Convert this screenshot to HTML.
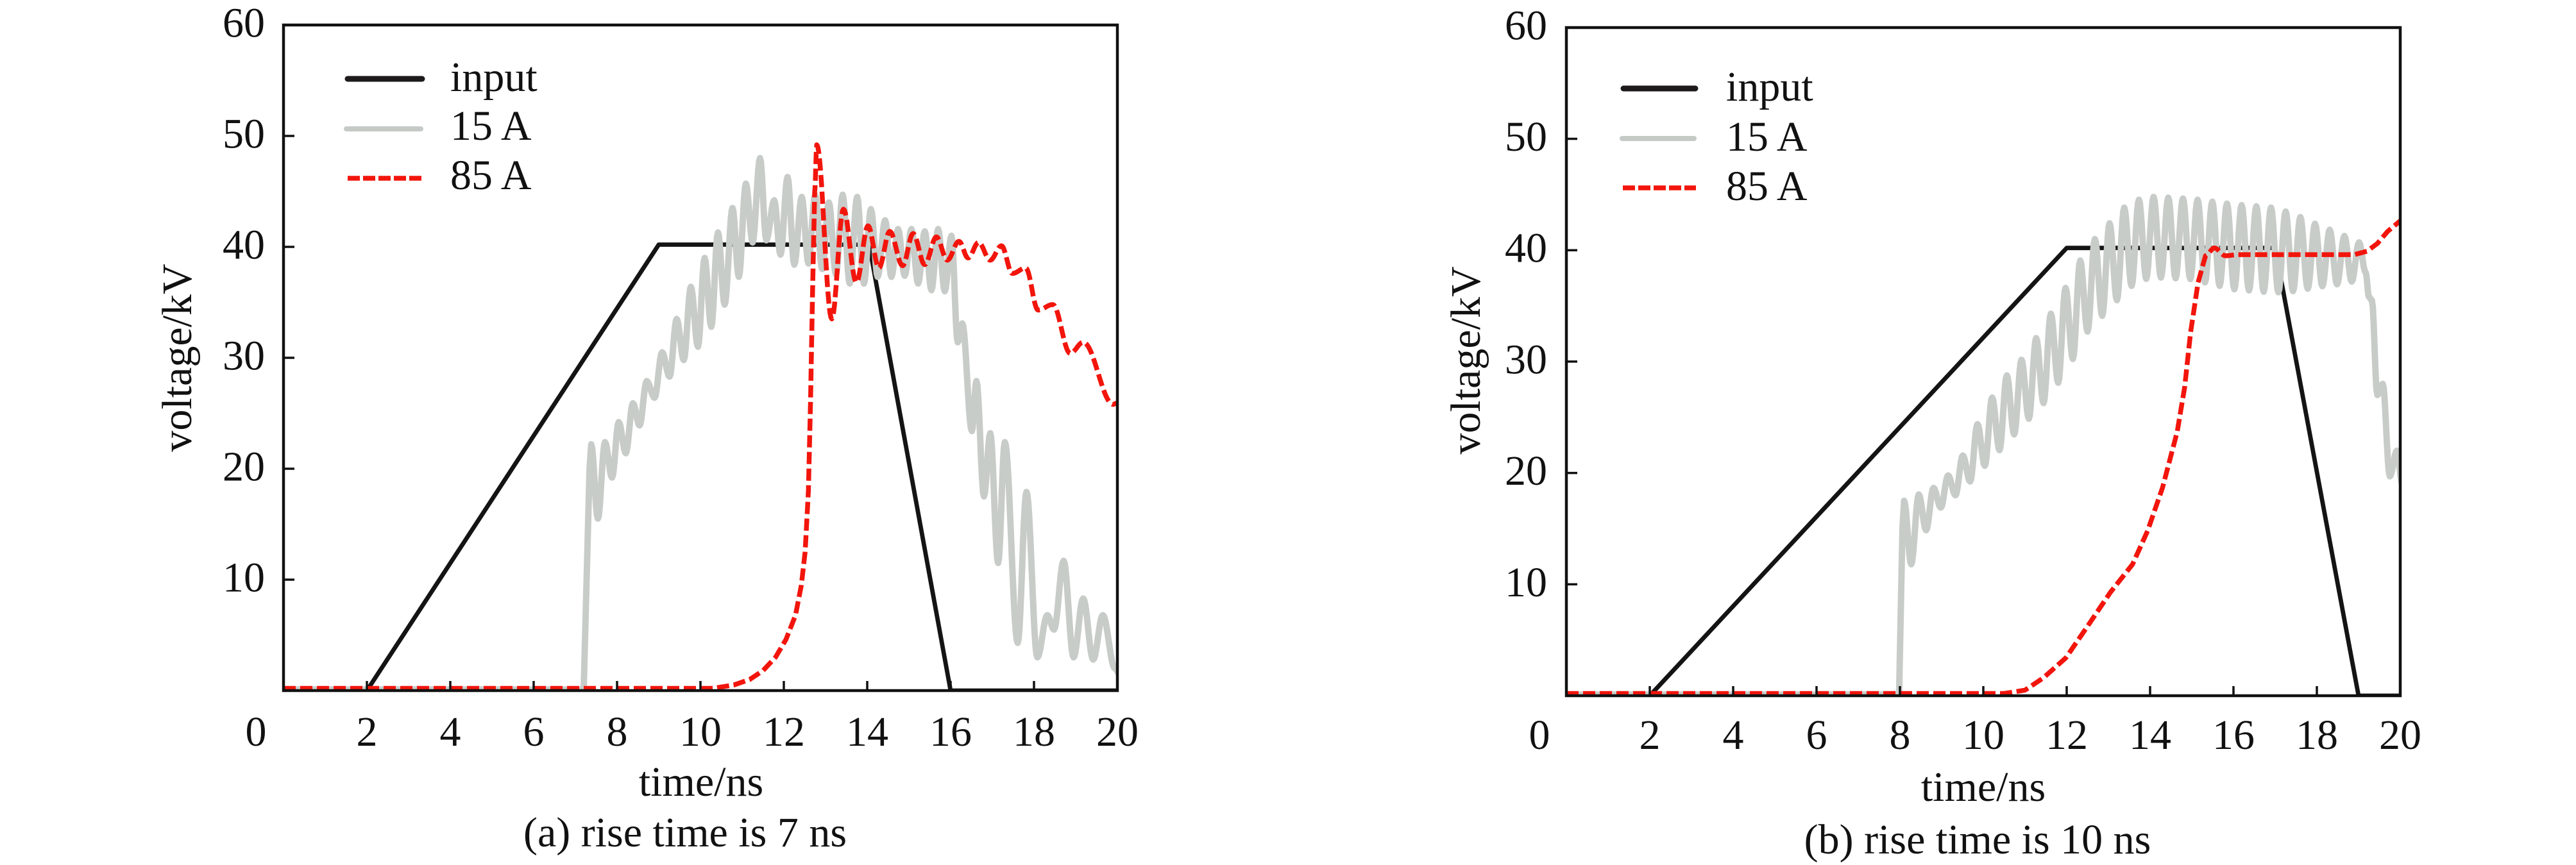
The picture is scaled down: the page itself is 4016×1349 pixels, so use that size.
<!DOCTYPE html>
<html>
<head>
<meta charset="utf-8">
<style>
  html,body{margin:0;padding:0;background:#fff;}
  svg{display:block;}
  text{font-family:"Liberation Serif","Times New Roman",serif;fill:#111;}
</style>
</head>
<body>
<svg id="s" xmlns="http://www.w3.org/2000/svg" width="4016" height="1349" viewBox="0 0 4016 1349" font-family="'Liberation Serif', serif">
  <rect x="0" y="0" width="4016" height="1349" fill="#fff"/>
  <defs>
    <clipPath id="ca"><rect x="442" y="39" width="1300" height="1038"/></clipPath>
    <clipPath id="cb"><rect x="2442" y="43" width="1300" height="1042"/></clipPath>
  </defs>

  <!-- ================= PLOT A ================= -->
  <g clip-path="url(#ca)" fill="none" stroke-linejoin="round">
    <path d="M442 1077 L572 1077 L1027 381.5 L1355 381.5 L1482 1077 L1742 1077" stroke="#141414" stroke-width="6.8"/>
    <path id="ga" d="" stroke="#c8ccc9" stroke-width="10"/>
    <path id="ra" d="" stroke="#f2150c" stroke-width="7.5" stroke-dasharray="19 7"/>
  </g>
  <rect x="442" y="39" width="1300" height="1038" fill="none" stroke="#111" stroke-width="4.5"/>
  <g stroke="#111" stroke-width="3.5">
    <line x1="572" y1="1077" x2="572" y2="1062"/>
    <line x1="702" y1="1077" x2="702" y2="1062"/>
    <line x1="832" y1="1077" x2="832" y2="1062"/>
    <line x1="962" y1="1077" x2="962" y2="1062"/>
    <line x1="1092" y1="1077" x2="1092" y2="1062"/>
    <line x1="1222" y1="1077" x2="1222" y2="1062"/>
    <line x1="1352" y1="1077" x2="1352" y2="1062"/>
    <line x1="1482" y1="1077" x2="1482" y2="1062"/>
    <line x1="1612" y1="1077" x2="1612" y2="1062"/>
    <line x1="442" y1="904" x2="459" y2="904"/>
    <line x1="442" y1="731" x2="459" y2="731"/>
    <line x1="442" y1="558" x2="459" y2="558"/>
    <line x1="442" y1="385" x2="459" y2="385"/>
    <line x1="442" y1="212" x2="459" y2="212"/>
  </g>
  <g font-size="66" text-anchor="end" font-family="'Liberation Serif', serif">
    <text x="413" y="57.5">60</text>
    <text x="413" y="230.5">50</text>
    <text x="413" y="403.5">40</text>
    <text x="413" y="576.5">30</text>
    <text x="413" y="749.5">20</text>
    <text x="413" y="922.5">10</text>
  </g>
  <g font-size="66" text-anchor="middle" font-family="'Liberation Serif', serif">
    <text x="399" y="1163">0</text>
    <text x="572" y="1163">2</text>
    <text x="702" y="1163">4</text>
    <text x="832" y="1163">6</text>
    <text x="962" y="1163">8</text>
    <text x="1092" y="1163">10</text>
    <text x="1222" y="1163">12</text>
    <text x="1352" y="1163">14</text>
    <text x="1482" y="1163">16</text>
    <text x="1612" y="1163">18</text>
    <text x="1742" y="1163">20</text>
    <text x="1093" y="1241">time/ns</text>
    <text x="1068" y="1320">(a) rise time is 7 ns</text>
  </g>
  <text font-size="66" text-anchor="middle" font-family="'Liberation Serif', serif" transform="translate(298,558) rotate(-90)">voltage/kV</text>
  <!-- legend A -->
  <line x1="542" y1="123" x2="658" y2="123" stroke="#1d1a1c" stroke-width="9" stroke-linecap="round"/>
  <line x1="540" y1="201" x2="656" y2="201" stroke="#c6cac7" stroke-width="8" stroke-linecap="round"/>
  <line x1="542" y1="278" x2="657" y2="278" stroke="#f2150c" stroke-width="7.5" stroke-dasharray="19 5"/>
  <g font-size="66" font-family="'Liberation Serif', serif">
    <text x="702" y="142">input</text>
    <text x="702" y="218">15 A</text>
    <text x="702" y="295">85 A</text>
  </g>

  <!-- ================= PLOT B ================= -->
  <g clip-path="url(#cb)" fill="none" stroke-linejoin="round">
    <path d="M2442 1085 L2572 1085 L3222 386.7 L3547 386.7 L3677 1085 L3742 1085" stroke="#141414" stroke-width="6.8"/>
    <path id="gb" d="" stroke="#c8ccc9" stroke-width="10"/>
    <path id="rb" d="" stroke="#f2150c" stroke-width="7.5" stroke-dasharray="19 7"/>
  </g>
  <rect x="2442" y="43" width="1300" height="1042" fill="none" stroke="#111" stroke-width="4.5"/>
  <g stroke="#111" stroke-width="3.5">
    <line x1="2572" y1="1085" x2="2572" y2="1070"/>
    <line x1="2702" y1="1085" x2="2702" y2="1070"/>
    <line x1="2832" y1="1085" x2="2832" y2="1070"/>
    <line x1="2962" y1="1085" x2="2962" y2="1070"/>
    <line x1="3092" y1="1085" x2="3092" y2="1070"/>
    <line x1="3222" y1="1085" x2="3222" y2="1070"/>
    <line x1="3352" y1="1085" x2="3352" y2="1070"/>
    <line x1="3482" y1="1085" x2="3482" y2="1070"/>
    <line x1="3612" y1="1085" x2="3612" y2="1070"/>
    <line x1="2442" y1="911.3" x2="2459" y2="911.3"/>
    <line x1="2442" y1="737.6" x2="2459" y2="737.6"/>
    <line x1="2442" y1="563.9" x2="2459" y2="563.9"/>
    <line x1="2442" y1="390.2" x2="2459" y2="390.2"/>
    <line x1="2442" y1="216.5" x2="2459" y2="216.5"/>
  </g>
  <g font-size="66" text-anchor="end" font-family="'Liberation Serif', serif">
    <text x="2412" y="61.5">60</text>
    <text x="2412" y="235">50</text>
    <text x="2412" y="408.7">40</text>
    <text x="2412" y="582.4">30</text>
    <text x="2412" y="756.1">20</text>
    <text x="2412" y="929.8">10</text>
  </g>
  <g font-size="66" text-anchor="middle" font-family="'Liberation Serif', serif">
    <text x="2400" y="1168">0</text>
    <text x="2572" y="1168">2</text>
    <text x="2702" y="1168">4</text>
    <text x="2832" y="1168">6</text>
    <text x="2962" y="1168">8</text>
    <text x="3092" y="1168">10</text>
    <text x="3222" y="1168">12</text>
    <text x="3352" y="1168">14</text>
    <text x="3482" y="1168">16</text>
    <text x="3612" y="1168">18</text>
    <text x="3742" y="1168">20</text>
    <text x="3092" y="1249">time/ns</text>
    <text x="3083" y="1331">(b) rise time is 10 ns</text>
  </g>
  <text font-size="66" text-anchor="middle" font-family="'Liberation Serif', serif" transform="translate(2307,562) rotate(-90)">voltage/kV</text>
  <!-- legend B -->
  <line x1="2531" y1="138" x2="2643" y2="138" stroke="#1d1a1c" stroke-width="9" stroke-linecap="round"/>
  <line x1="2529" y1="216" x2="2641" y2="216" stroke="#c6cac7" stroke-width="8" stroke-linecap="round"/>
  <line x1="2530" y1="293" x2="2644" y2="293" stroke="#f2150c" stroke-width="7.5" stroke-dasharray="19 5"/>
  <g font-size="66" font-family="'Liberation Serif', serif">
    <text x="2691" y="157">input</text>
    <text x="2691" y="235">15 A</text>
    <text x="2691" y="312">85 A</text>
  </g>
</svg>

<script>
(function(){
  function path(pts, x0, y0, k){
    var d = 'M' + (x0 + pts[0][0]*65).toFixed(1) + ' ' + (y0 - pts[0][1]*k).toFixed(1);
    for (var i = 0; i < pts.length - 1; i++){
      var t0 = pts[i][0], v0 = pts[i][1], m = pts[i][2], t1 = pts[i+1][0], v1 = pts[i+1][1];
      if (m === 'l'){
        d += ' L' + (x0 + t1*65).toFixed(1) + ' ' + (y0 - v1*k).toFixed(1);
      } else {
        var n = Math.max(6, Math.ceil((t1 - t0)*65/1.5));
        for (var j = 1; j <= n; j++){
          var s = j/n, t = t0 + (t1 - t0)*s, v = v0 + (v1 - v0)*(1 - Math.cos(Math.PI*s))/2;
          d += ' L' + (x0 + t*65).toFixed(1) + ' ' + (y0 - v*k).toFixed(1);
        }
      }
    }
    return d;
  }
  function lerp(tab, t){
    if (t <= tab[0][0]) return tab[0][1];
    for (var i = 0; i < tab.length - 1; i++){
      if (t >= tab[i][0] && t <= tab[i+1][0]){
        var s = (t - tab[i][0])/(tab[i+1][0] - tab[i][0]);
        return tab[i][1] + (tab[i+1][1] - tab[i][1])*s;
      }
    }
    return tab[tab.length-1][1];
  }

  var ga = [[0,0.1,'l'],[7.2,0.1,'l'],[7.34,20,'l'],[7.38,22.2],
    [7.54,15.5],[7.71,22.4],[7.88,19.2],[8.04,24.2],[8.21,21.4],[8.38,25.9],[8.54,23.9],[8.71,27.9],
    [8.9,26.4],[9.08,30.5],[9.26,28.3],[9.43,33.5],[9.6,29.8],[9.77,36.4],[9.94,31.0],[10.1,39.0],
    [10.26,32.8],[10.42,41.3],[10.58,34.8],[10.77,43.5],[10.92,37.3],[11.09,45.7],[11.25,40.4],[11.43,48.0],
    [11.58,40.6],[11.77,44.2],[11.92,39.3],[12.09,46.3],[12.25,38.4],[12.43,44.5],[12.59,38.5],[12.75,44.7],
    [12.92,38.0],[13.08,44.0],[13.25,37.5],[13.41,44.7],[13.58,36.7],[13.76,44.5],[13.92,36.7],[14.09,43.4],
    [14.25,37.3],[14.43,42.4],[14.58,37.3],[14.74,41.6],[14.9,37.4],[15.06,41.6],[15.22,36.7],[15.38,41.4],
    [15.54,36.1],[15.7,41.6],[15.86,36.0],[16.02,41.0],[16.17,31.4],[16.28,33.1],[16.51,23.4],[16.62,27.9],
    [16.8,17.5],[16.95,23.2],[17.14,11.5],[17.3,22.4],[17.61,4.3],[17.82,17.9],[18.08,3.0],[18.32,6.8],
    [18.48,5.5],[18.71,11.7],[18.95,3.0],[19.18,8.3],[19.42,2.8],[19.65,6.8],[19.94,2.0],[20.05,1.5]];
  document.getElementById('ga').setAttribute('d', path(ga, 442, 1077, 17.3));

  var ra = [[0,0.2,'l'],[10.3,0.2,'l'],[10.8,0.5,'l'],[11.18,1.0,'l'],[11.5,1.8,'l'],[11.8,3.0,'l'],
    [12.05,4.6,'l'],[12.28,6.8,'l'],[12.42,9.5,'l'],[12.51,12.5,'l'],[12.59,18,'l'],[12.64,26,'l'],
    [12.69,36,'l'],[12.74,45],[12.79,49.2],[13.15,33.5],[13.43,43.4],[13.74,36.8],[14.02,41.9],
    [14.28,38.1],[14.54,41.4],[14.85,38.3],[15.1,41.2],[15.38,38.4],[15.66,40.9],[15.92,38.8],
    [16.2,40.5],[16.42,39.0],[16.67,40.4],[16.95,38.8],[17.22,40.1],[17.48,37.6],[17.8,38.1],
    [18.1,34.3],[18.45,34.8],[18.87,30.4],[19.18,31.4],[19.9,25.8,'l'],[20.05,26]];
  document.getElementById('ra').setAttribute('d', path(ra, 442, 1077, 17.3));

  var meanT = [[8.1,15],[8.6,16.5],[9,18],[9.5,20],[10,23],[10.5,25.5],[11,27.5],[11.5,30],[12,33],
    [12.5,36.5],[13,38.5],[13.5,40.5],[14,41.2],[15,41],[16,40.3],[17,40],[18,39.5],[19,39]];
  var ampT = [[8.1,2.5],[8.6,1.8],[9,1],[9.5,1.5],[10,2.5],[10.5,3],[11,3],[11.5,3.5],[12,3.8],
    [12.5,3.8],[13,3.8],[13.5,3.8],[14,3.6],[15,3.6],[16,3.8],[17,3.8],[17.5,3.4],[18,2.8],[18.5,2.3],[19,1.7]];
  var gb = [[0,0.1,'l'],[7.98,0.1,'l'],[8.06,15,'l'],[8.1,17.5],[8.27,11.8]];
  var P = 0.352, peak = true;
  for (var n = 0; n <= 60; n++){
    var t = 8.1 + P + n*P/2;
    var mm = lerp(meanT, t), aa = lerp(ampT, t);
    gb.push([t, peak ? mm + aa : mm - aa]);
    peak = !peak;
  }
  gb.push([19.17,38],[19.25,35.8],[19.32,35.5],[19.45,27],[19.58,28],[19.75,19.7],[19.92,22],[20.05,19]);
  document.getElementById('gb').setAttribute('d', path(gb, 2442, 1085, 17.37));

  var rb = [[0,0.2,'l'],[10.5,0.2,'l'],[11.0,0.5,'l'],[11.44,1.6,'l'],[11.98,3.4,'l'],[12.51,6.3,'l'],
    [13.05,9.3,'l'],[13.58,11.8,'l'],[13.94,14.8,'l'],[14.3,18.7,'l'],[14.65,23.7,'l'],[14.83,27.7,'l'],
    [14.97,32.6,'l'],[15.15,37.1,'l'],[15.33,39.5],[15.54,40.2],[15.81,39.5],[16.1,39.6,'l'],
    [18.9,39.6,'l'],[19.2,39.9,'l'],[19.45,40.6,'l'],[19.7,41.7,'l'],[20.05,42.8,'l']];
  document.getElementById('rb').setAttribute('d', path(rb, 2442, 1085, 17.37));
})();
</script>
</body>
</html>
